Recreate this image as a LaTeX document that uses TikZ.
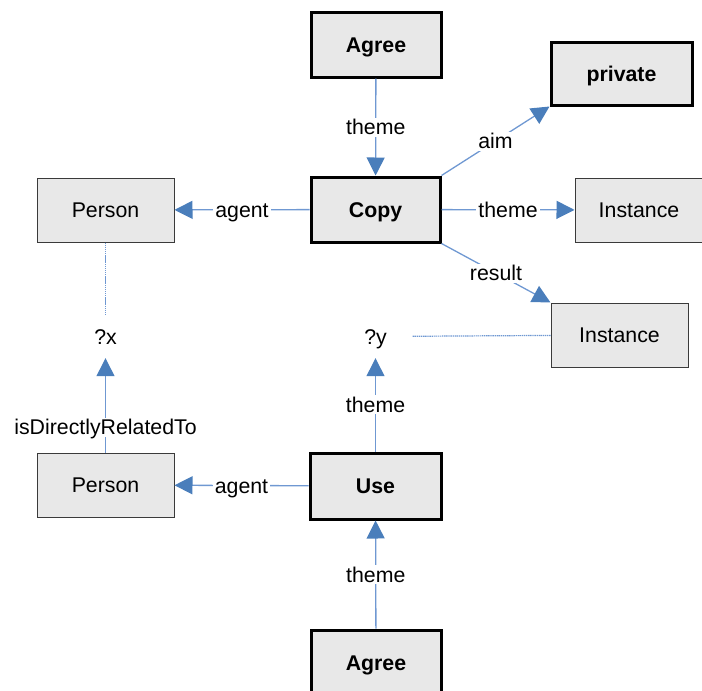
\documentclass[tikz,border=0pt]{standalone}
\usepackage{fontspec}
\setmainfont{Liberation Sans}
\usetikzlibrary{arrows.meta}
\definecolor{boxfill}{HTML}{E8E8E8}
\definecolor{lineblue}{HTML}{6F98D2}
\definecolor{tipblue}{HTML}{4A7EBB}
\definecolor{thinborder}{HTML}{3A3A3A}
\begin{document}
\begin{tikzpicture}[x=1pt,y=-1pt,
  font=\fontsize{21.3}{25}\selectfont,
  every node/.style={text height=15pt, text depth=0pt},
  bbox/.style={draw=black, line width=3pt, fill=boxfill, inner sep=0pt, font=\fontsize{21.3}{25}\selectfont\bfseries},
  tbox/.style={draw=thinborder, line width=1pt, fill=boxfill, inner sep=0pt},
  varnode/.style={inner sep=0pt, minimum width=74pt, minimum height=43pt},
  conn/.style={draw=lineblue, line width=1.3pt, -{Triangle[length=18pt,width=18pt,color=tipblue]}},
  link/.style={draw=lineblue, line width=1.2pt, dash pattern=on 1.4pt off 0.7pt},
  elabel/.style={fill=white, inner sep=2pt}
]
\useasboundingbox (0,0) rectangle (702,691);
% nodes
\node[bbox, minimum width=130pt, minimum height=65pt] (agreeA) at (376,44.5) {Agree};
\node[bbox, minimum width=141pt, minimum height=63pt] (private) at (621.5,73.5) {private};
\node[bbox, minimum width=129pt, minimum height=65pt] (copy) at (375.5,209.5) {Copy};
\node[tbox, minimum width=137pt, minimum height=64pt] (personA) at (105.5,210) {Person};
\node[tbox, minimum width=128pt, minimum height=64pt] (instA) at (639,210) {Instance};
\node[tbox, minimum width=137pt, minimum height=64pt] (instB) at (619.5,335) {Instance};
\node[varnode] (x) at (105.5,336.5) {?x};
\node[varnode] (y) at (375.5,336.5) {?y};
\node[tbox, minimum width=137pt, minimum height=64pt] (personB) at (105.5,485) {Person};
\node[bbox, minimum width=131pt, minimum height=66pt] (use) at (375.5,486) {Use};
\node[bbox, minimum width=130pt, minimum height=65pt] (agreeB) at (376,662.5) {Agree};
% connectors
\draw[conn] (agreeA) -- node[elabel] {theme} (copy);
\draw[conn] (copy.north east) -- node[elabel] {aim} (private.south west);
\draw[conn] (copy) -- node[elabel] {agent} (personA);
\draw[conn] (copy) -- node[elabel] {theme} (instA);
\draw[conn] (copy.south east) -- node[elabel] {result} (instB.north west);
\draw[link] (personA) -- (x);
\draw[link] (instB) -- (y);
\draw[conn] (personB) -- node[elabel, pos=0.27] {isDirectlyRelatedTo} (x);
\draw[conn] (use) -- node[elabel] {theme} (y);
\draw[conn] (use) -- node[elabel] {agent} (personB);
\draw[conn] (agreeB) -- node[elabel] {theme} (use);
\end{tikzpicture}
\end{document}
